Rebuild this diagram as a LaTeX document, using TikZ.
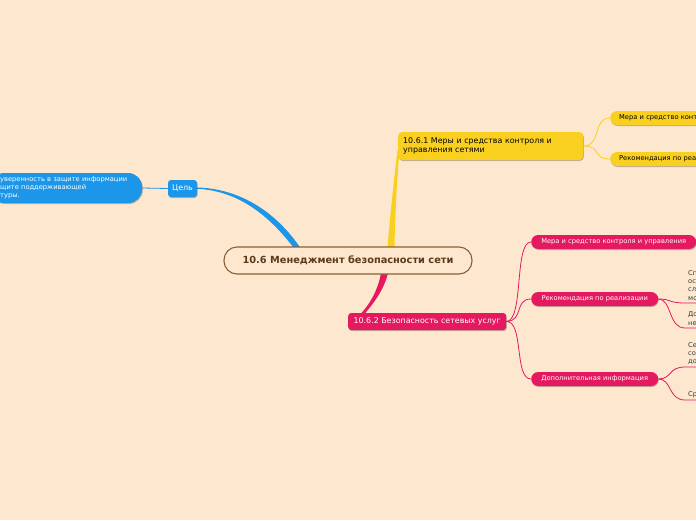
\documentclass[tikz,border=0pt]{standalone}
\usepackage{fontspec}
\setmainfont{DejaVu Sans}
\usetikzlibrary{shadows}
\definecolor{bgc}{HTML}{FDE8CF}
\definecolor{brownc}{HTML}{8B5E34}
\definecolor{titlec}{HTML}{5C3A1A}
\definecolor{bluec}{HTML}{1B96E8}
\definecolor{yellowc}{HTML}{F9D01F}
\definecolor{pinkc}{HTML}{E5195F}
\definecolor{fragc}{HTML}{383838}
\tikzset{
  shad/.style={drop shadow={shadow xshift=0.6pt,shadow yshift=-1pt,opacity=0.25,fill=black}},
  fsmall/.style={font=\fontsize{6.7}{8}\selectfont},
  fmid/.style={font=\fontsize{7.9}{9}\selectfont},
  bnode/.style={fill=bluec,text=white,shad},
  ynode/.style={fill=yellowc,text=black,shad},
  pnode/.style={fill=pinkc,text=white,shad},
  pill/.style={rounded corners=7pt,minimum height=14pt,inner ysep=0pt,anchor=west,align=left},
  yline/.style={draw=yellowc,line width=0.8pt},
  pline/.style={draw=pinkc,line width=0.8pt},
  bline/.style={draw=bluec,line width=0.8pt},
  frag/.style={fsmall,text=fragc,anchor=west,inner sep=0pt},
}
\begin{document}
\begin{tikzpicture}[x=1pt,y=-1pt]
\useasboundingbox (0,0) rectangle (696,520);
\clip (0,0) rectangle (696,520);
\fill[bgc] (0,0) rectangle (696,520);

% thick main branches (tapered)
\fill[bluec] (197,187.5) .. controls (240,188.5) and (276,212) .. (300.5,248)
  -- (294.5,249) .. controls (270,216) and (238,190.5) .. (197,188.8) -- cycle;
\fill[yellowc] (387.5,248) .. controls (390,215) and (394,180) .. (397.5,150)
  -- (399.5,150) .. controls (397,180) and (395,215) .. (394.5,248) -- cycle;
\fill[pinkc] (381,273) .. controls (378,290) and (370,304) .. (360.5,314)
  -- (364.5,314) .. controls (373,304) and (384,290) .. (388,273) -- cycle;

% central node
\node[draw=brownc,line width=1.1pt,fill=bgc,rounded corners=13pt,
  minimum width=248pt,minimum height=27pt,inner sep=0pt,text=titlec,
  font=\bfseries\fontsize{9.8}{11}\selectfont] (c) at (348,260.5)
  {10.6 Менеджмент безопасности сети};

% blue side
\node[bnode,fsmall,anchor=west,rounded corners=14pt,text width=132pt,
  inner xsep=10pt,minimum height=30pt,align=left] (l) at (-10,188)
  {уверенность в защите информации\\щите поддерживающей\\туры.};
\node[bnode,fmid,rounded corners=3pt,minimum width=29pt,minimum height=17pt,
  inner sep=0pt] (goal) at (182.5,188.5) {Цель};
\draw[bline] (l.east) -- (goal.west);

% yellow branch
\node[ynode,fmid,anchor=west,rounded corners=4pt,text width=175pt,inner xsep=5pt,
  minimum height=28pt,align=left] (y) at (398,146)
  {10.6.1 Меры и средства контроля и\\управления сетями};
\node[ynode,pill,fsmall,text width=120pt,inner xsep=9pt] (y1) at (610,118)
  {Мера и средство конт};
\node[ynode,pill,fsmall,text width=120pt,inner xsep=9pt] (y2) at (610,159)
  {Рекомендация по реа};
\draw[yline] (y.east) .. controls (602,146) and (592,118) .. (y1.west);
\draw[yline] (y.east) .. controls (602,146) and (592,159) .. (y2.west);

% pink branch
\node[pnode,fmid,anchor=west,rounded corners=3pt,minimum width=158pt,
  minimum height=17pt,inner sep=0pt] (p) at (348,321.5)
  {10.6.2 Безопасность сетевых услуг};
\node[pnode,pill,fsmall,minimum width=165pt,inner xsep=9pt] (p1) at (531,242)
  {Мера и средство контроля и управления};
\node[pnode,pill,fsmall,minimum width=127pt,inner xsep=9pt] (p2) at (531,299)
  {Рекомендация по реализации};
\node[pnode,pill,fsmall,minimum width=127pt,inner xsep=9pt] (p3) at (531,379)
  {Дополнительная информация};
\draw[pline] (p.east) .. controls (524,321) and (514,242) .. (p1.west);
\draw[pline] (p.east) .. controls (524,321) and (514,299) .. (p2.west);
\draw[pline] (p.east) .. controls (524,321) and (514,379) .. (p3.west);

% cropped leaf texts
\node[frag] (f1) at (688,273) {Сп};
\node[frag] (f2) at (688,281.5) {ос};
\node[frag] (f3) at (688,290) {сл};
\node[frag] (f4) at (688,298.5) {мо};
\node[frag] (f5) at (688,315) {До};
\node[frag] (f6) at (688,323.5) {не};
\node[frag] (f7) at (688,345) {Се};
\node[frag] (f8) at (688,353.5) {со};
\node[frag] (f9) at (688,362) {до};
\node[frag] (f10) at (688,395) {Ср};
\coordinate (u1) at (700,303);
\coordinate (u2) at (700,328);
\coordinate (u3) at (700,367);
\coordinate (u4) at (700,400);
\draw[pline] (p2.east) .. controls (672,299) and (668,303) .. (685,303) -- (u1);
\draw[pline] (p2.east) .. controls (672,299) and (668,328) .. (685,328) -- (u2);
\draw[pline] (p3.east) .. controls (672,379) and (668,367) .. (685,367) -- (u3);
\draw[pline] (p3.east) .. controls (672,379) and (668,400) .. (685,400) -- (u4);
\end{tikzpicture}
\end{document}
